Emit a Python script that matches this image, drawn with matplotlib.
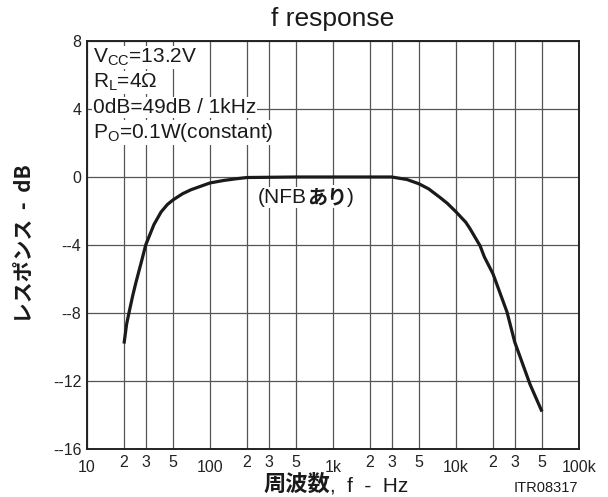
import matplotlib
matplotlib.use("Agg")
import matplotlib.pyplot as plt
from matplotlib.ticker import FixedLocator, FixedFormatter

# Frequency response (NFB on), dB relative to the 1 kHz level
freq_hz = [20, 21, 22, 23.5, 25, 28, 30, 35, 40, 45, 50, 60, 70, 80, 100,
           130, 165, 200, 500, 1000, 3000, 4000, 5000, 6000, 7400, 8500,
           10000, 12000, 13000, 15700, 17000, 20000, 26000, 30000, 40000,
           50000]
response_db = [-9.8, -8.65, -7.95, -7.0, -6.2, -4.85, -4.0, -2.8, -2.06,
               -1.62, -1.35, -0.98, -0.75, -0.6, -0.35, -0.2, -0.1, -0.03,
               0.0, 0.0, 0.0, -0.15, -0.4, -0.7, -1.2, -1.55, -2.05, -2.66,
               -3.04, -4.05, -4.7, -5.7, -7.95, -9.7, -12.2, -13.8]

x_major = [10, 100, 1000, 10000, 100000]
x_major_labels = ["10", "100", "1k", "10k", "100k"]
x_minor = [20, 30, 50, 200, 300, 500, 2000, 3000, 5000, 20000, 30000, 50000]
x_minor_labels = ["2", "3", "5"] * 4
y_ticks = [8, 4, 0, -4, -8, -12, -16]
y_tick_labels = ["8", "4", "0", "--4", "--8", "--12", "--16"]

LAT = "Liberation Sans"
JP = ["Noto Sans CJK JP", "Liberation Sans"]
plt.rcParams["font.family"] = [LAT, "Noto Sans CJK JP"]
plt.rcParams["mathtext.fontset"] = "custom"
plt.rcParams["mathtext.rm"] = LAT
plt.rcParams["mathtext.it"] = LAT

W, H = 608, 497
fig = plt.figure(figsize=(W / 100, H / 100), dpi=100)
ax = fig.add_axes([87 / W, 1 - 449 / H, (579 - 87) / W, (449 - 41) / H])

ax.set_xscale("log")
ax.set_xlim(10, 100000)
ax.set_ylim(-16, 8)

ax.xaxis.set_major_locator(FixedLocator(x_major))
ax.xaxis.set_major_formatter(FixedFormatter(x_major_labels))
ax.xaxis.set_minor_locator(FixedLocator(x_minor))
ax.xaxis.set_minor_formatter(FixedFormatter(x_minor_labels))
ax.yaxis.set_major_locator(FixedLocator(y_ticks))
ax.yaxis.set_major_formatter(FixedFormatter(y_tick_labels))
ax.yaxis.set_minor_locator(FixedLocator([]))

ax.tick_params(axis="x", which="major", length=0, pad=8, labelsize=11.5, colors="#222222")
ax.tick_params(axis="x", which="minor", length=0, pad=4, labelsize=11.5, colors="#222222")
ax.tick_params(axis="y", which="major", length=0, pad=4, labelsize=11.5, colors="#222222")

ax.grid(True, which="both", axis="x", color="#555555", linewidth=0.9)
ax.grid(True, which="major", axis="y", color="#555555", linewidth=0.9)
ax.set_axisbelow(True)
for s in ax.spines.values():
    s.set_linewidth(1.4)
    s.set_color("#222222")

ax.plot(freq_hz, response_db, color="#1a1a1a", linewidth=2.3,
        solid_capstyle="butt", solid_joinstyle="round", zorder=3)

# Measurement conditions, one boxed line each
conditions = [r"V$_{\mathrm{CC}}$=13.2V", r"R$_{\mathrm{L}}$=4$\Omega$",
              "0dB=49dB / 1kHz", r"P$_{\mathrm{O}}$=0.1W(constant)"]
for i, line in enumerate(conditions):
    fig.text(93 / W, 1 - (63 + 25 * i) / H, line, fontsize=15,
             ha="left", va="baseline", color="#1a1a1a",
             bbox=dict(facecolor="white", edgecolor="none", pad=0.6), zorder=5)

fig.canvas.draw()
r = fig.canvas.get_renderer()

# Curve label: "(NFBあり)"
box = dict(facecolor="white", edgecolor="none", pad=0.5)
ly = 1 - 203 / H
x0 = 258
t1 = fig.text(x0 / W, ly, "(NFB", fontsize=15, ha="left", va="baseline",
              color="#1a1a1a", bbox=box, zorder=5)
w1 = t1.get_window_extent(r).width
t2 = fig.text((x0 + w1) / W, ly, "あり", fontsize=14.5, fontweight="bold",
              family=JP, ha="left", va="baseline", color="#1a1a1a",
              bbox=box, zorder=5)
w2 = t2.get_window_extent(r).width
fig.text((x0 + w1 + w2) / W, ly, ")", fontsize=15, ha="left", va="baseline",
         color="#1a1a1a", bbox=box, zorder=5)

# Title
fig.text(333 / W, 1 - 19 / H, "f response", fontsize=19, ha="center",
         va="center", color="#1a1a1a")

# Axis labels
fig.text(24 / W, 1 - 244 / H, "レスポンス  -  dB", fontsize=15, fontweight="bold",
         family=JP, rotation=90, ha="center", va="center", color="#1a1a1a")
xl1 = fig.text(263 / W, 1 - 491 / H, "周波数", fontsize=16, fontweight="bold",
               family=JP, ha="left", va="baseline", color="#1a1a1a")
wx = xl1.get_window_extent(r).width
fig.text((263 + wx) / W, 1 - 491 / H, ",  f  -  Hz", fontsize=15,
         ha="left", va="baseline", color="#1a1a1a")

fig.text(578 / W, 1 - 492 / H, "ITR08317", fontsize=10.5, ha="right",
         va="baseline", color="#1a1a1a")

fig.savefig("out.png", dpi=100)
